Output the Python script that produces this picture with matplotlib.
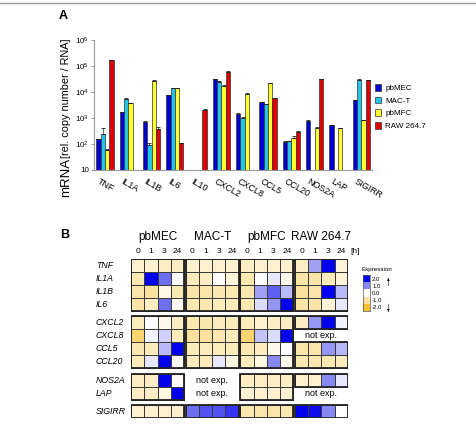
import numpy as np
import matplotlib.pyplot as plt
from matplotlib.colors import LinearSegmentedColormap
from matplotlib.patches import Rectangle
from matplotlib.lines import Line2D

plt.rcParams['font.family'] = ['Liberation Sans', 'DejaVu Sans']
plt.rcParams['mathtext.default'] = 'regular'

nan = np.nan

# ---- panel A data (rel. copy number / RNA) ----
genes = ['TNF', 'IL1A', 'IL1B', 'IL6', 'IL10', 'CXCL2', 'CXCL8', 'CCL5',
         'CCL20', 'NOS2A', 'LAP', 'SIGIRR']
lines = ['pbMEC', 'MAC-T', 'pbMFC', 'RAW 264.7']
pbmec = [150, 1650, 720, 7600, nan, 32000, 1480, 4150, 120, 790, 525, 4800]
mact = [235, 5400, 90, 14000, nan, 25000, 1020, 3400, 125, nan, nan, 29500]
pbmfc = [59, 3650, 27000, 14000, nan, 17500, 8700, 22000, 165, 410, 400, 810]
raw = [170000, nan, 380, 107, 2000, 60000, nan, 5750, 295, 31500, nan, 29000]
pbmec_err = [10, 60, 20, 300, nan, 1000, 50, 100, 5, 20, 15, 150]
mact_err = [190, 300, 22, 600, nan, 1000, 40, 100, 5, nan, nan, 1000]
pbmfc_err = [3, 150, 1000, 600, nan, 600, 300, 900, 40, 55, 15, 30]
raw_err = [5000, nan, 90, 4, 200, 2000, nan, 200, 15, 1000, nan, 1000]
bar_colors = ['#0000D0', '#22C6EA', '#FFFF30', '#E00000']

# ---- panel B data (expression, scaled -2..2), columns 0, 1, 3, 24 h ----
heat_genes = ['TNF', 'IL1A', 'IL1B', 'IL6', 'CXCL2', 'CXCL8', 'CCL5', 'CCL20',
              'NOS2A', 'LAP', 'SIGIRR']
times = ['0', '1', '3', '24']
heat_pbmec = [[-0.5, -0.5, -0.6, -0.6],
              [-0.8, 2.0, 1.2, 0.0],
              [-0.9, -1.0, -0.3, -0.8],
              [-0.9, -0.6, 1.2, -0.2],
              [-0.7, 0.0, -0.2, -0.6],
              [-1.4, 0.1, 0.4, -0.7],
              [-0.8, -0.7, 0.6, 2.0],
              [-0.7, 0.2, 2.0, -0.1],
              [-0.6, -0.6, 2.0, -0.1],
              [-0.6, -0.6, -0.3, 2.0],
              [-0.5, -0.5, -0.5, -0.5]]
heat_mact = [[-0.5, -0.5, -0.5, -0.5],
             [-0.7, -0.6, 0.0, -0.4],
             [-0.9, -0.9, -0.8, -0.8],
             [-0.8, -0.8, -0.7, -0.7],
             [-0.8, -0.8, -0.7, -0.7],
             [-1.0, -1.0, -0.8, -0.7],
             [-0.7, -0.7, -0.7, -0.7],
             [-0.7, -0.7, 0.2, -0.3],
             [nan, nan, nan, nan],
             [nan, nan, nan, nan],
             [1.2, 1.4, 1.4, 1.6]]
heat_pbmfc = [[-0.6, -0.5, -0.5, -0.5],
              [-0.8, 0.0, 0.2, -0.2],
              [-0.8, 0.8, 1.3, 0.6],
              [-0.8, 0.3, 0.9, 2.0],
              [-0.7, -0.5, -0.6, -0.6],
              [-1.4, 0.5, 0.3, 2.0],
              [-0.8, -0.7, -0.2, 0.0],
              [-0.7, -0.3, 1.0, -0.2],
              [-0.6, -0.6, -0.6, -0.6],
              [-0.5, -0.5, -0.5, -0.5],
              [-0.8, -0.9, -0.9, -0.8]]
heat_raw = [[-0.6, 0.8, 2.0, -0.4],
            [-0.9, -0.9, -0.7, -0.4],
            [-1.0, -0.9, 2.0, 0.6],
            [-0.9, -0.9, -0.4, 0.2],
            [-0.6, 0.9, 2.0, 0.1],
            [nan, nan, nan, nan],
            [-0.9, -0.9, 0.9, 0.6],
            [-0.8, -0.8, -0.8, -0.7],
            [-0.5, -0.5, 1.0, 0.2],
            [nan, nan, nan, nan],
            [2.0, 1.9, 1.0, 0.0]]
row_groups = [(0, 4), (4, 8), (8, 10), (10, 11)]
cbar_levels = [2.0, 1.0, 0.0, -1.0, -2.0]

W, H = 477, 425
fig = plt.figure(figsize=(W / 100, H / 100), dpi=100)


def fx(px):
    return px / W


def fy(py):
    return 1 - py / H


fig.add_artist(Line2D([0, 1], [fy(3), fy(3)], color='#999999', lw=1))

# ================= panel A =================
ax = fig.add_axes([fx(94), fy(170), fx(278), 130 / H])
x = np.arange(len(genes))
bw = 0.185
series = [(pbmec, pbmec_err), (mact, mact_err), (pbmfc, pbmfc_err), (raw, raw_err)]
handles = []
for k, (vals, errs) in enumerate(series):
    pos = x + (k - 1.5) * bw
    vals = np.array(vals, dtype=float)
    errs = np.array(errs, dtype=float)
    b = ax.bar(pos, vals, bw, color=bar_colors[k], edgecolor='#303030',
               linewidth=0.5, label=lines[k], zorder=2)
    handles.append(b)
    ax.errorbar(pos, vals, yerr=[np.zeros_like(errs), errs], fmt='none',
                ecolor='#222222', elinewidth=0.5, capsize=1.2, capthick=0.6, zorder=3)

ax.set_yscale('log')
ax.set_ylim(10, 1e6)
ax.set_xlim(-0.47, 11.46)
ax.set_yticks([10, 1e2, 1e3, 1e4, 1e5, 1e6])
ax.set_yticklabels(['10', '$10^2$', '$10^3$', '$10^4$', '$10^5$', '$10^6$'],
                   fontsize=5.8)
ax.minorticks_off()
ax.tick_params(axis='y', length=2, width=0.6, color='#888888', pad=1.5)
ax.set_xticks(x - 0.2)
ax.set_xticklabels(genes, rotation=-30, ha='left', va='top',
                   rotation_mode='anchor', fontsize=6.5)
ax.tick_params(axis='x', length=0, pad=5)
for s in ['top', 'right']:
    ax.spines[s].set_visible(False)
for s in ['left', 'bottom']:
    ax.spines[s].set_color('#999999')
    ax.spines[s].set_linewidth(0.8)

fig.text(fx(66), fy(197), 'mRNA', rotation=90, ha='center', va='bottom', fontsize=9.5)
fig.text(fx(66), fy(158), '[rel. copy number / RNA]', rotation=90,
         ha='center', va='bottom', fontsize=7.8)
fig.text(fx(63), fy(16), 'A', fontsize=9, fontweight='bold', ha='center', va='center')

fig.legend(handles, lines, loc='upper left', bbox_to_anchor=(fx(372), fy(81)),
           frameon=False, fontsize=5.8, handlelength=0.75, handleheight=0.9,
           handletextpad=0.5, labelspacing=0.55, borderaxespad=0)

# ================= panel B =================
cmap = LinearSegmentedColormap.from_list(
    'expr', [(0.0, '#F4C22C'), (0.25, '#FAE29E'), (0.5, '#FFFFFF'),
             (0.75, '#8A8AF2'), (1.0, '#0000EE')])

ah = fig.add_axes([fx(131), fy(418), fx(217), 159 / H])
blocks = [heat_pbmec, heat_mact, heat_pbmfc, heat_raw]
gap_x = 0.12
row_top = [0.0, 4.4, 8.8, 11.2]
for b, data in enumerate(blocks):
    data = np.array(data, dtype=float)
    x0 = b * (4 + gap_x)
    xe = x0 + np.arange(5)
    for g, (r0, r1) in enumerate(row_groups):
        y0 = row_top[g]
        # split each group into runs of expressed rows
        run = []
        rows = list(range(r0, r1)) + [None]
        for r in rows:
            if r is not None and not np.isnan(data[r]).all():
                run.append(r)
                continue
            if run:
                ys = y0 + (run[0] - r0)
                ye = ys + np.arange(len(run) + 1)
                ah.pcolormesh(xe, ye, data[run[0]:run[-1] + 1], cmap=cmap,
                              vmin=-2, vmax=2, edgecolors='#3a3a3a', linewidth=0.6)
                ah.add_patch(Rectangle((x0, ys), 4, len(run), fill=False,
                                       edgecolor='#222222', lw=1.3, zorder=3))
                run = []
            if r is not None:
                ah.text(x0 + 2, y0 + (r - r0) + 0.5, 'not exp.', ha='center',
                        va='center', fontsize=6.5)
    ah.text(x0 + 2, -1.7, lines[b], ha='center', va='center', fontsize=8.5)
    for j, t in enumerate(times):
        ah.text(x0 + j + 0.5, -0.55, t, ha='center', va='center', fontsize=6)

ah.text(16.55, -0.55, '[h]', ha='left', va='center', fontsize=6)
for g, (r0, r1) in enumerate(row_groups):
    for r in range(r0, r1):
        ah.text(-2.65, row_top[g] + (r - r0) + 0.5, heat_genes[r], ha='left',
                va='center', fontsize=6.3, style='italic')
ah.set_xlim(0, 4 * 4 + 3 * gap_x)
ah.set_ylim(12.2, 0)
ah.axis('off')

fig.text(fx(65), fy(235), 'B', fontsize=9, fontweight='bold', ha='center', va='center')

# colour key
cax = fig.add_axes([fx(363), fy(311), fx(7), 36 / H])
cax.imshow(np.array(cbar_levels)[:, None], cmap=cmap, vmin=-2, vmax=2, aspect='auto')
cax.set_xticks([])
cax.yaxis.tick_right()
cax.set_yticks(range(len(cbar_levels)))
cax.set_yticklabels([f'{v:.1f}' for v in cbar_levels], fontsize=4.3)
cax.tick_params(axis='y', length=0, pad=1.5)
for s in cax.spines.values():
    s.set_linewidth(0.5)
    s.set_color('#555555')
fig.text(fx(362), fy(270), 'Expression', fontsize=4.5, ha='left', va='center')
fig.add_artist(Line2D([fx(388), fx(388)], [fy(278), fy(285)], color='#333333', lw=0.5))
fig.add_artist(Line2D([fx(388), fx(388)], [fy(304), fy(311)], color='#333333', lw=0.5))
fig.text(fx(388), fy(279), '\u25b4', fontsize=4, ha='center', va='center')
fig.text(fx(388), fy(310), '\u25be', fontsize=4, ha='center', va='center')

fig.savefig('out.png', dpi=100)
